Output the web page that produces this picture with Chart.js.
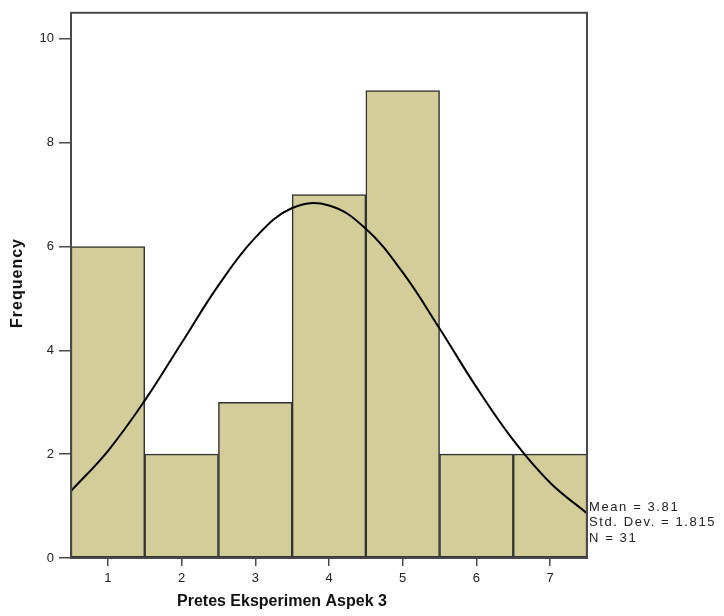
<!DOCTYPE html>
<html>
<head>
<meta charset="utf-8">
<script src="https://cdn.jsdelivr.net/npm/chart.js@4"></script>
<style>
  html, body { margin: 0; padding: 0; background: #fff; }
  canvas { display: block; }
</style>
</head>
<body>
<canvas id="histChart" width="724" height="616"></canvas>
<script>
// Histogram data
const binCenters = [1, 2, 3, 4, 5, 6, 7];
const frequencies = [6, 2, 3, 7, 9, 2, 2];

// Normal curve, points
const curveX = [0.5, 1, 1.5, 2, 2.5, 3, 3.5, 4, 4.5, 5, 5.5, 6, 6.5, 7, 7.5];
const curveY = [1.29, 2.06, 3.03, 4.14, 5.25, 6.17, 6.74, 6.79, 6.34, 5.50, 4.42, 3.29, 2.27, 1.45, 0.86];

const xTicks = [1, 2, 3, 4, 5, 6, 7];
const yTicks = [0, 2, 4, 6, 8, 10];

const statLines = ['Mean = 3.81', 'Std. Dev. = 1.815', 'N = 31'];
const xTitle = 'Pretes Eksperimen Aspek 3';
const yTitle = 'Frequency';

const axisColor = '#4a4a4a';

// frame, axis titles and the stats box
const extrasPlugin = {
    id: 'extras',
    afterDraw(chart) {
        const ctx = chart.ctx;
        const a = chart.chartArea;
        ctx.save();
        ctx.strokeStyle = axisColor;
        ctx.lineWidth = 2;
        ctx.strokeRect(a.left, a.top, a.right - a.left, a.bottom - a.top);

        ctx.fillStyle = '#111';
        ctx.font = 'bold 16px "Liberation Sans", Arial, sans-serif';
        ctx.textBaseline = 'middle';
        ctx.textAlign = 'left';
        ctx.fillText(xTitle, 177, 602);

        ctx.save();
        ctx.translate(18, 283);
        ctx.rotate(-Math.PI / 2);
        ctx.textAlign = 'center';
        ctx.letterSpacing = '1px';
        ctx.fillText(yTitle, 0, 0);
        ctx.restore();

        ctx.font = '13px "Liberation Sans", Arial, sans-serif';
        ctx.fillStyle = '#222';
        ctx.letterSpacing = '1.6px';
        ctx.textAlign = 'left';
        statLines.forEach((line, i) => {
            ctx.fillText(line, a.right + 2, 507 + i * 15.5);
        });
        ctx.restore();
    }
};

const ctx = document.getElementById('histChart').getContext('2d');

new Chart(ctx, {
    type: 'bar',
    data: {
        datasets: [{
            type: 'line',
            label: 'Normal',
            data: curveX.map((x, i) => ({ x: x, y: curveY[i] })),
            borderColor: '#000',
            borderWidth: 2,
            pointRadius: 0,
            tension: 0.4,
            fill: false,
            order: 0
        }, {
            label: 'Frequency',
            data: binCenters.map((x, i) => ({ x: x, y: frequencies[i] })),
            backgroundColor: '#d3ce99',
            borderColor: '#333',
            borderWidth: 1.5,
            borderSkipped: false,
            barPercentage: 1,
            categoryPercentage: 1,
            order: 1
        }]
    },
    options: {
        responsive: false,
        animation: false,
        layout: { padding: { top: 10, right: 137, left: 0, bottom: 0 } },
        plugins: {
            legend: { display: false },
            tooltip: { enabled: false }
        },
        scales: {
            x: {
                type: 'linear',
                min: 0.5,
                max: 7.5,
                offset: false,
                afterFit: s => { s.height = 58; },
                afterBuildTicks: s => { s.ticks = xTicks.map(v => ({ value: v })); },
                grid: { offset: false, drawOnChartArea: false, tickLength: 8, color: axisColor, lineWidth: 1.5 },
                border: { color: axisColor, width: 2 },
                ticks: {
                    padding: 5,
                    color: '#222',
                    font: { family: '"Liberation Sans", Arial, sans-serif', size: 13 }
                }
            },
            y: {
                min: 0,
                max: 10.5,
                afterFit: s => { s.width = 71; },
                afterBuildTicks: s => { s.ticks = yTicks.map(v => ({ value: v })); },
                grid: { drawOnChartArea: false, tickLength: 12, color: axisColor, lineWidth: 1.5 },
                border: { color: axisColor, width: 2 },
                ticks: {
                    padding: 5,
                    color: '#222',
                    font: { family: '"Liberation Sans", Arial, sans-serif', size: 13 }
                }
            }
        }
    },
    plugins: [extrasPlugin]
});
</script>
</body>
</html>
